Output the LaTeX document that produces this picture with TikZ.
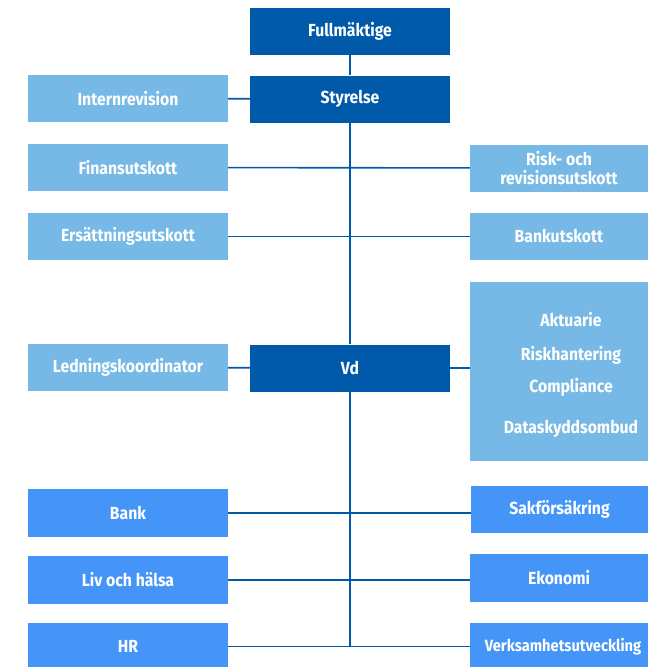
\documentclass[tikz,border=0pt]{standalone}
\usepackage{fontspec}
\setmainfont{Fira Sans}[FakeStretch=0.9]
\definecolor{morkbla}{HTML}{005AA9}
\definecolor{ljusbla}{HTML}{76B9E6}
\definecolor{mellanbla}{HTML}{4595F8}
\tikzset{
  box/.style={minimum width=200pt, minimum height=47pt, inner sep=2pt,
    text=white, font=\fontsize{17.5}{18.5}\selectfont\bfseries, align=center},
  ledning/.style={box, fill=morkbla},
  utskott/.style={box, fill=ljusbla},
  affar/.style={box, fill=mellanbla},
  linje/.style={draw=morkbla, line width=1.6pt}
}
\begin{document}
\begin{tikzpicture}[x=1pt, y=-1pt]
\useasboundingbox (0,0) rectangle (648,667);
\clip (0,0) rectangle (648,667);
% styrning
\node[ledning] (full) at (350,31.5) {Fullmäktige};
\node[ledning] (styr) at (350,99) {Styrelse};
\node[utskott] (intern) at (128,98.5) {Internrevision};
\node[utskott] (finans) at (128,167.5) {Finansutskott};
\node[utskott, minimum width=178pt] (risk) at (559,168) {Risk- och\\revisionsutskott};
\node[utskott] (ersatt) at (128,236.5) {Ersättningsutskott};
\node[utskott, minimum width=178pt] (bankut) at (559,236.5) {Bankutskott};
% vd
\node[utskott] (ledn) at (128,367.5) {Ledningskoordinator};
\node[ledning] (vd) at (350,368) {Vd};
\node[utskott, minimum width=178pt, minimum height=179pt] (funk) at (559,371.5) {};
\node[text=white, font=\fontsize{17.5}{17}\selectfont\bfseries] (akt) at (571,319.5) {Aktuarie};
\node[text=white, font=\fontsize{17.5}{17}\selectfont\bfseries] (risk2) at (571,355.5) {Riskhantering};
\node[text=white, font=\fontsize{17.5}{17}\selectfont\bfseries] (compl) at (571,387.5) {Compliance};
\node[text=white, font=\fontsize{17.5}{17}\selectfont\bfseries] (data) at (571,428.5) {Dataskyddsombud};
% verksamhet
\node[affar, minimum height=48pt] (bank) at (128,513) {Bank};
\node[affar, minimum width=177pt] (sak) at (559.5,509.5) {Sakförsäkring};
\node[affar, minimum height=48pt] (liv) at (128,580) {Liv och hälsa};
\node[affar, minimum width=178pt, minimum height=48pt] (ekon) at (559,578) {Ekonomi};
\node[affar] (hr) at (128,646.5) {HR};
\node[affar, minimum width=178pt, font=\fontsize{16.3}{17}\selectfont\bfseries] (verk) at (559,646.5) {\hspace*{8pt}Verksamhetsutveckling};
\coordinate (stam) at (350,646.5);
% linjer
\draw[linje] (full) -- (styr);
\draw[linje] (styr) -- (vd);
\draw[linje] (vd) -- (stam);
\draw[linje] (intern) -- (styr);
\draw[linje] (finans) -- (risk);
\draw[linje] (ersatt) -- (bankut);
\draw[linje] (ledn) -- (vd);
\draw[linje] (vd) -- (vd -| funk.west);
\draw[linje] (bank.east) -- (bank.east -| sak.west);
\draw[linje] (liv.east) -- (liv.east -| ekon.west);
\draw[linje] (hr) -- (verk);
\end{tikzpicture}
\end{document}
